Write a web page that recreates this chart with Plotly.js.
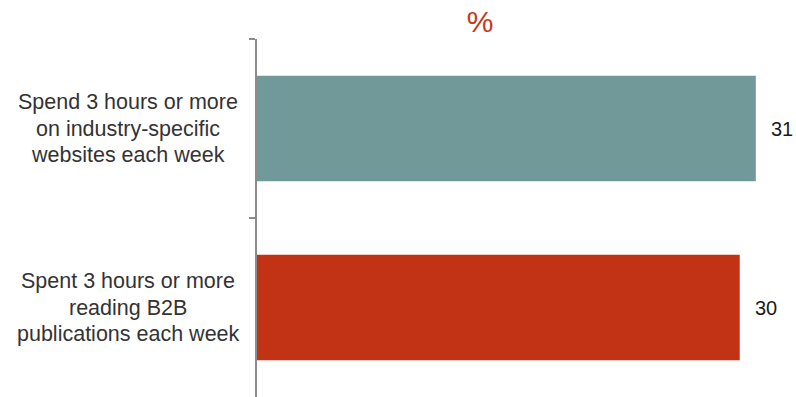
<!DOCTYPE html>
<html>
<head>
<meta charset="utf-8">
<script src="https://cdn.plot.ly/plotly-3.0.1.min.js"></script>
<style>html,body{margin:0;padding:0;background:#fff;}#chart{width:796px;height:397px;}</style>
</head>
<body>
<div id="chart"></div>
<script>
var categories = ["Spend 3 hours or more<br>on industry-specific<br>websites each week", "Spent 3 hours or more<br>reading B2B<br>publications each week"];
var values = [31, 30];
var barColors = ["#72999A", "#C23215"];
var valueLabels = ["31", "30"];
var titleText = "%";

var trace = {
  type: "bar",
  orientation: "h",
  x: values,
  y: categories,
  marker: {color: barColors},
  width: 0.59,
  hoverinfo: "none"
};

var annotations = [];
var lineGap = 26.3;
categories.forEach(function(c, i){
  var lines = c.split("<br>");
  lines.forEach(function(line, j){
    annotations.push({
      xref: "paper", yref: "y", x: 0, y: c,
      text: line, showarrow: false, xanchor: "center", yanchor: "middle",
      xshift: -129, yshift: ((lines.length - 1) / 2 - j) * lineGap, align: "center",
      font: {family: "Liberation Sans, Arial, sans-serif", size: 21.5, color: "#333333"}
    });
  });
  annotations.push({
    xref: "x", yref: "y", x: values[i], y: c,
    text: valueLabels[i], showarrow: false, xanchor: "left", yanchor: "middle",
    xshift: 13,
    font: {family: "Liberation Sans, Arial, sans-serif", size: 20, color: "#1a1a1a"}
  });
});

var layout = {
  width: 796, height: 397,
  margin: {l: 257, r: 8, t: 39, b: 0, pad: 0},
  paper_bgcolor: "#ffffff", plot_bgcolor: "#ffffff",
  showlegend: false,
  title: {
    text: titleText, xref: "container", yref: "container",
    x: 0.603, y: 0.945, xanchor: "center", yanchor: "middle",
    font: {family: "Liberation Sans, Arial, sans-serif", size: 30, color: "#C8361A"}
  },
  xaxis: {
    range: [0, 33], showgrid: false, zeroline: false, showline: false,
    showticklabels: false, ticks: ""
  },
  yaxis: {
    type: "category", autorange: "reversed",
    showline: true, linecolor: "#8c8c8c", linewidth: 2,
    ticks: "outside", ticklen: 6, tickwidth: 2, tickcolor: "#8c8c8c",
    tickson: "boundaries", showticklabels: false, showgrid: false, zeroline: false
  },
  annotations: annotations
};

Plotly.newPlot("chart", [trace], layout, {staticPlot: true, displayModeBar: false});
</script>
</body>
</html>
